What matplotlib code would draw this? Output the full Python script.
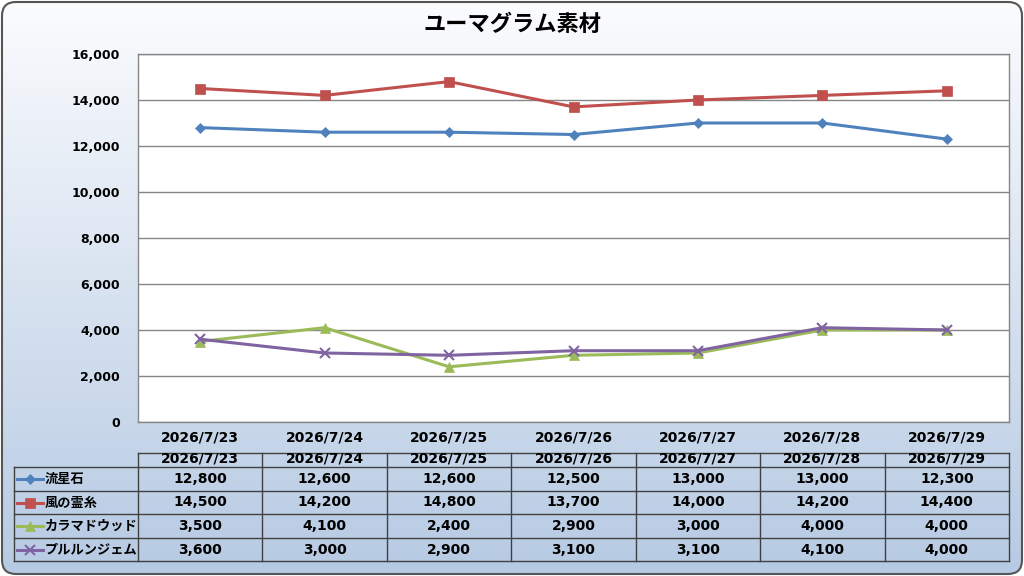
import matplotlib
matplotlib.use("Agg")
import matplotlib.pyplot as plt
import numpy as np
from matplotlib.patches import FancyBboxPatch
from matplotlib.lines import Line2D

plt.rcParams['font.family'] = ['Noto Sans CJK JP', 'DejaVu Sans']
NUMFONT = ['DejaVu Sans', 'Noto Sans CJK JP']

title = "ユーマグラム素材"
dates = ["2026/7/23", "2026/7/24", "2026/7/25", "2026/7/26", "2026/7/27", "2026/7/28", "2026/7/29"]
series_names = ["流星石", "風の霊糸", "カラマドウッド", "プルルンジェム"]
s1 = [12800, 12600, 12600, 12500, 13000, 13000, 12300]
s2 = [14500, 14200, 14800, 13700, 14000, 14200, 14400]
s3 = [3500, 4100, 2400, 2900, 3000, 4000, 4000]
s4 = [3600, 3000, 2900, 3100, 3100, 4100, 4000]
series = [s1, s2, s3, s4]
colors = ["#4f81bd", "#c0504d", "#9bbb59", "#8064a2"]
markers = ["D", "s", "^", "x"]
msizes = [5, 7, 7, 7]
yticks = list(range(0, 16001, 2000))

W, H = 1024, 576
fig = plt.figure(figsize=(W / 100, H / 100), dpi=100)

def fx(px):
    return px / W

def fy(py):
    return 1 - py / H

# background with gradient inside rounded rect
bg = fig.add_axes([0, 0, 1, 1])
bg.set_xlim(0, W)
bg.set_ylim(H, 0)
bg.axis('off')
grad = np.linspace(0, 1, 256).reshape(-1, 1)
top = np.array([0xfb, 0xfc, 0xfe]) / 255
bot = np.array([0xb6, 0xca, 0xe3]) / 255
img = top[None, None, :] * (1 - grad[:, :, None]) + bot[None, None, :] * grad[:, :, None]
im = bg.imshow(img, extent=[0, W, H, 0], aspect='auto', zorder=0)
patch = FancyBboxPatch((2, 2), W - 4, H - 4, boxstyle="round,pad=0,rounding_size=14",
                       facecolor='none', edgecolor='#555555', linewidth=1.5, zorder=2)
bg.add_patch(patch)
im.set_clip_path(patch)

# plot area
L, R, T, B = 138, 1009, 54, 422
ax = fig.add_axes([fx(L), fy(B), fx(R - L), (B - T) / H])
ax.set_facecolor('white')
x = np.arange(len(dates))
for vals, c, m, ms in zip(series, colors, markers, msizes):
    ax.plot(x, vals, color=c, lw=2.2, marker=m, markersize=ms,
            markeredgewidth=1.5 if m == 'x' else 0.5, markeredgecolor=c, zorder=3)
ax.set_xlim(-0.5, len(dates) - 0.5)
ax.set_ylim(0, 16000)
ax.set_yticks(yticks)
ax.set_yticklabels([f"{v:,}" for v in yticks], fontsize=9, fontweight='bold', family=NUMFONT)
ax.set_xticks(x)
ax.set_xticklabels(dates, fontsize=10, fontweight='bold', family=NUMFONT)
ax.tick_params(length=0, pad=6)
ax.tick_params(axis='y', pad=13)
ax.grid(axis='y', color='#868686', lw=1)
ax.set_axisbelow(True)
for sp in ax.spines.values():
    sp.set_color('#868686')
    sp.set_linewidth(1)

fig.text(0.5, fy(24), title, ha='center', va='center', fontsize=16, fontweight='bold')

# data table
lc = '#404040'
colw = (R - L) / len(dates)
bounds = [L + i * colw for i in range(len(dates) + 1)]
rows_y = [467, 491, 514, 538, 561]
tL = 14
bg.plot([L, R], [453, 453], color=lc, lw=1, zorder=3)
for yv in rows_y:
    bg.plot([tL, R], [yv, yv], color=lc, lw=1, zorder=3)
bg.plot([tL, tL], [467, 561], color=lc, lw=1, zorder=3)
for bx in bounds:
    bg.plot([bx, bx], [453, 561], color=lc, lw=1, zorder=3)
for i, d in enumerate(dates):
    cx = (bounds[i] + bounds[i + 1]) / 2
    bg.text(cx, 459, d, ha='center', va='center', fontsize=10, fontweight='bold',
            family=NUMFONT, zorder=4)
for r, (name, vals, c, m, ms) in enumerate(zip(series_names, series, colors, markers, msizes)):
    cy = (rows_y[r] + rows_y[r + 1]) / 2
    bg.add_line(Line2D([17, 43], [cy, cy], color=c, lw=2.2, zorder=4))
    bg.plot([30], [cy], marker=m, color=c, markersize=ms,
            markeredgewidth=1.5 if m == 'x' else 0.5, zorder=5)
    bg.text(45, cy, name, ha='left', va='center', fontsize=9.5, fontweight='bold', zorder=4)
    for i, v in enumerate(vals):
        cx = (bounds[i] + bounds[i + 1]) / 2
        bg.text(cx, cy, f"{v:,}", ha='center', va='center', fontsize=10, fontweight='bold',
                family=NUMFONT, zorder=4)

fig.savefig("out.png", dpi=100)
